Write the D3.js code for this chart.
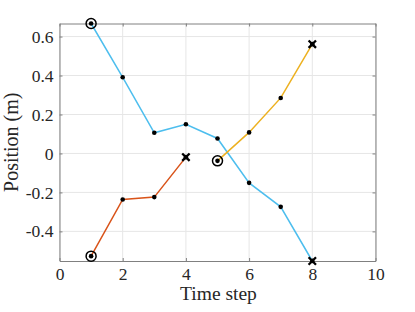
<!DOCTYPE html>
<html>
<head>
<meta charset="utf-8">
<script src="https://cdn.jsdelivr.net/npm/d3@7"></script>
<style>
  body { margin: 0; background: #fff; }
  text { font-family: "Liberation Serif", "DejaVu Serif", serif; fill: #262626; }
</style>
</head>
<body>
<svg id="chart" width="415" height="312"></svg>
<script>
// series
var blueSteps = [1, 2, 3, 4, 5, 6, 7, 8];
var blueVals = [0.667, 0.391, 0.106, 0.150, 0.077, -0.151, -0.274, -0.552];
var redSteps = [1, 2, 3, 4];
var redVals = [-0.527, -0.236, -0.224, -0.019];
var yellowSteps = [5, 6, 7, 8];
var yellowVals = [-0.038, 0.108, 0.285, 0.561];

var xTicks = [0, 2, 4, 6, 8, 10];
var yTicks = [-0.4, -0.2, 0, 0.2, 0.4, 0.6];

var svg = d3.select('#chart');
var m = { left: 59.5, top: 23.5, right: 375.5, bottom: 261 };

var x = d3.scaleLinear().domain([0, 10]).range([m.left, m.right]);
var y = d3.scaleLinear().domain([-0.552, 0.667]).range([m.bottom, m.top]);

// grid
var grid = svg.append('g').attr('class', 'grid');
grid.selectAll('.gx').data(xTicks).enter().append('line')
    .attr('x1', function(d) { return x(d); })
    .attr('x2', function(d) { return x(d); })
    .attr('y1', m.top).attr('y2', m.bottom)
    .attr('stroke', '#e6e6e6').attr('stroke-width', 1);
grid.selectAll('.gy').data(yTicks).enter().append('line')
    .attr('y1', function(d) { return y(d); })
    .attr('y2', function(d) { return y(d); })
    .attr('x1', m.left).attr('x2', m.right)
    .attr('stroke', '#e6e6e6').attr('stroke-width', 1);

// axes (ticks inward, box on)
var fmt = function(d) { return d === 0 ? '0' : d3.format('.1f')(d).replace('\u2212', '-'); };

function styleAxis(g) {
  g.attr('font-family', null).attr('font-size', null);
  g.select('.domain').attr('stroke', '#808080');
  g.selectAll('.tick line').attr('stroke', '#808080');
  g.selectAll('.tick text')
      .style('font-family', '"Liberation Serif", serif')
      .style('font-size', '17.5px')
      .style('fill', '#262626');
}

svg.append('g').attr('transform', 'translate(0,' + m.bottom + ')')
    .call(d3.axisBottom(x).tickValues(xTicks).tickSize(-3).tickSizeOuter(0).tickPadding(7).tickFormat(d3.format('d')))
    .call(styleAxis);
svg.append('g').attr('transform', 'translate(0,' + m.top + ')')
    .call(d3.axisTop(x).tickValues(xTicks).tickSize(-3).tickSizeOuter(0).tickFormat(''))
    .call(styleAxis);
svg.append('g').attr('transform', 'translate(' + m.left + ',0)')
    .call(d3.axisLeft(y).tickValues(yTicks).tickSize(-3).tickSizeOuter(0).tickPadding(6).tickFormat(fmt))
    .call(styleAxis);
svg.append('g').attr('transform', 'translate(' + m.right + ',0)')
    .call(d3.axisRight(y).tickValues(yTicks).tickSize(-3).tickSizeOuter(0).tickFormat(''))
    .call(styleAxis);

// labels
svg.append('text').attr('x', (m.left + m.right) / 2 + 1).attr('y', 300)
    .attr('text-anchor', 'middle').style('font-size', '19.5px').text('Time step');
svg.append('text').attr('transform', 'translate(18,' + ((m.top + m.bottom) / 2) + ') rotate(-90)')
    .attr('text-anchor', 'middle').style('font-size', '20px').text('Position (m)');

// series
var series = [
  { steps: blueSteps, vals: blueVals, color: '#4DBEEE' },
  { steps: redSteps, vals: redVals, color: '#D95319' },
  { steps: yellowSteps, vals: yellowVals, color: '#EDB120' }
];

var line = d3.line()
    .x(function(d) { return x(d[0]); })
    .y(function(d) { return y(d[1]); });

series.forEach(function(s) {
  var pts = d3.zip(s.steps, s.vals);
  svg.append('path').datum(pts)
      .attr('d', line)
      .attr('fill', 'none')
      .attr('stroke', s.color)
      .attr('stroke-width', 1.5);
});

series.forEach(function(s) {
  var pts = d3.zip(s.steps, s.vals);
  var g = svg.append('g');
  g.selectAll('circle.dot').data(pts).enter().append('circle')
      .attr('cx', function(d) { return x(d[0]); })
      .attr('cy', function(d) { return y(d[1]); })
      .attr('r', 2.3).attr('fill', '#000');
  var first = pts[0], last = pts[pts.length - 1];
  g.append('circle')
      .attr('cx', x(first[0])).attr('cy', y(first[1]))
      .attr('r', 5).attr('fill', 'none').attr('stroke', '#000').attr('stroke-width', 1.5);
  var cx = x(last[0]), cy = y(last[1]), k = 3.7;
  g.append('path')
      .attr('d', 'M' + (cx - k) + ',' + (cy - k) + 'L' + (cx + k) + ',' + (cy + k) +
                 'M' + (cx - k) + ',' + (cy + k) + 'L' + (cx + k) + ',' + (cy - k))
      .attr('stroke', '#000').attr('stroke-width', 2.3);
});
</script>
</body>
</html>
